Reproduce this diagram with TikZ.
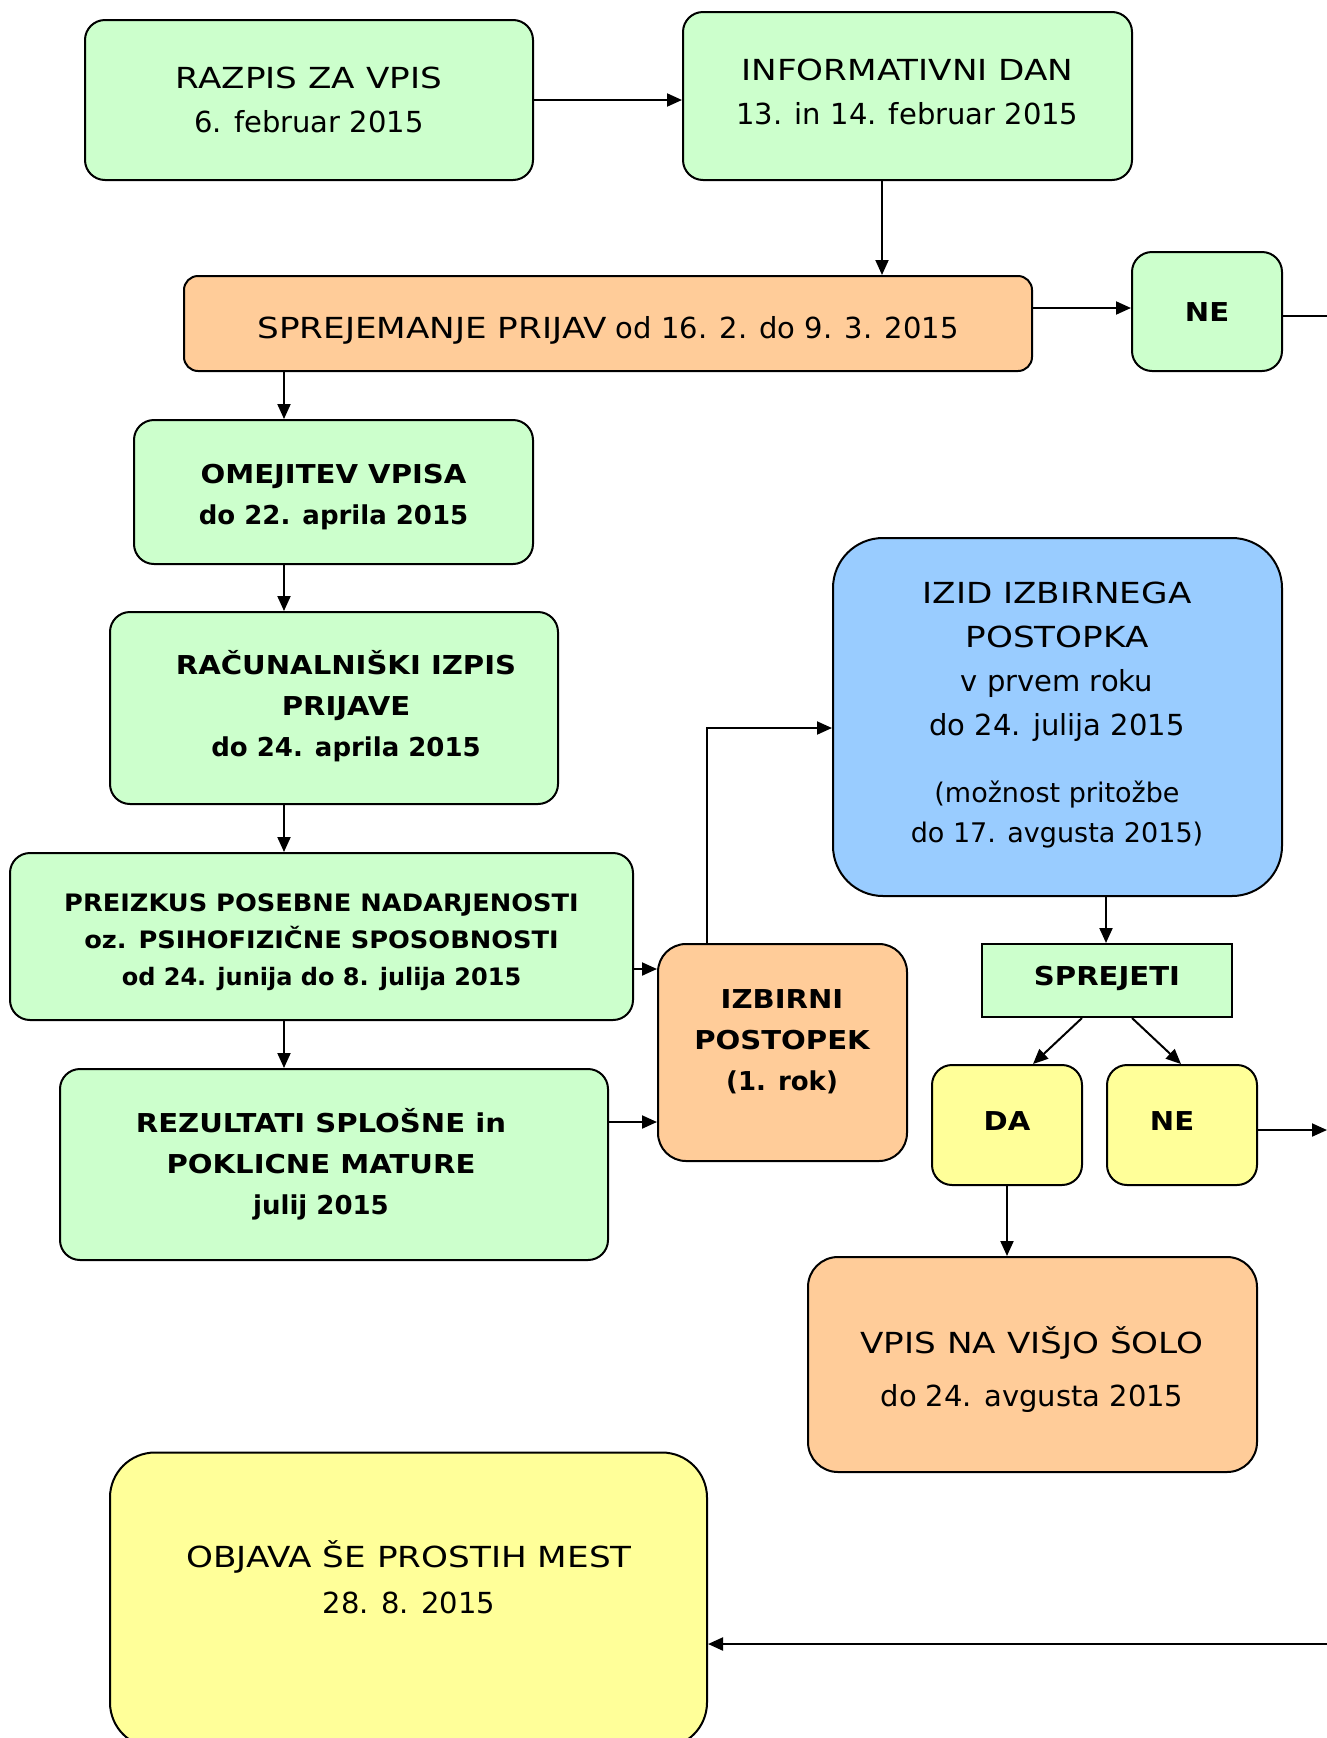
\documentclass[tikz,border=0pt]{standalone}
\usepackage{fontspec}
\setmainfont{DejaVu Sans}
\newfontfamily\wideA{DejaVu Sans}[FakeStretch=1.18]
\newfontfamily\wideB{DejaVu Sans}[FakeStretch=1.12]
\newfontfamily\wideC{DejaVu Sans}[FakeStretch=1.07]
\usetikzlibrary{arrows.meta}
\definecolor{cgreen}{HTML}{CCFFCC}
\definecolor{corange}{HTML}{FFCC99}
\definecolor{cblue}{HTML}{99CCFF}
\definecolor{cyellow}{HTML}{FFFF99}
\tikzset{
  box/.style={draw=black, line width=2pt, rounded corners=20pt, inner sep=0pt},
  txt/.style={align=center, inner sep=0pt},
  reg/.style={txt, font=\fontsize{29}{44}\selectfont},
  bld/.style={txt, font=\bfseries\fontsize{26}{41}\selectfont},
  arr/.style={line width=2pt, -{Triangle[length=15pt,width=13pt]}},
  ln/.style={line width=2pt},
}
\begin{document}
\begin{tikzpicture}[x=1pt,y=-1pt]
\useasboundingbox (0,0) rectangle (1327,1738);
\clip (0,0) rectangle (1327,1738);
% boxes
\node[box,fill=cgreen,minimum width=448pt,minimum height=160pt] (raz) at (309,100) {};
\node[box,fill=cgreen,minimum width=449pt,minimum height=168pt] (info) at (907.5,96) {};
\node[box,fill=corange,rounded corners=14pt,minimum width=848pt,minimum height=95pt] (sprej) at (608,323.5) {};
\node[box,fill=cgreen,minimum width=150pt,minimum height=119pt] (ne1) at (1207,311.5) {};
\node[box,fill=cgreen,minimum width=399pt,minimum height=144pt] (omej) at (333.5,492) {};
\node[box,fill=cgreen,minimum width=448pt,minimum height=192pt] (racun) at (334,708) {};
\node[box,fill=cgreen,minimum width=623pt,minimum height=167pt] (preiz) at (321.5,936.5) {};
\node[box,fill=cgreen,minimum width=548pt,minimum height=191pt] (rez) at (334,1164.5) {};
\node[box,fill=corange,rounded corners=28pt,minimum width=249pt,minimum height=217pt] (izb) at (782.5,1052.5) {};
\node[box,fill=cblue,rounded corners=50pt,minimum width=449pt,minimum height=358pt] (izid) at (1057.5,717) {};
\node[draw=black,line width=2pt,fill=cgreen,minimum width=250pt,minimum height=73pt,inner sep=0pt] (sprejeti) at (1107,980.5) {};
\node[box,fill=cyellow,minimum width=150pt,minimum height=120pt] (da) at (1007,1125) {};
\node[box,fill=cyellow,minimum width=150pt,minimum height=120pt] (ne2) at (1182,1125) {};
\node[box,fill=corange,rounded corners=30pt,minimum width=449pt,minimum height=215pt] (vpis) at (1032.5,1364.5) {};
\node[box,fill=cyellow,rounded corners=45pt,minimum width=597pt,minimum height=295pt] (objava) at (408.5,1600) {};
% texts
\node[reg] (razt) at (309,100) {{\wideA RAZPIS ZA VPIS}\\6. februar 2015};
\node[reg] (infot) at (907.5,92) {{\wideA INFORMATIVNI DAN}\\13. in 14. februar 2015};
\node[reg] (sprejt) at (608,330) {{\wideA SPREJEMANJE PRIJAV} od 16. 2. do 9. 3. 2015};
\node[bld] (ne1t) at (1207,312) {\wideB NE};
\node[bld] (omejt) at (333.5,497) {{\wideB OMEJITEV VPISA}\\do 22. aprila 2015};
\node[bld] (racunt) at (346,706) {{\wideB RAČUNALNIŠKI IZPIS}\\{\wideB PRIJAVE}\\do 24. aprila 2015};
\node[bld,font=\bfseries\fontsize{24}{37}\selectfont] (preizt) at (321.5,942) {{\wideC PREIZKUS POSEBNE NADARJENOSTI}\\{\wideC oz. PSIHOFIZIČNE SPOSOBNOSTI}\\od 24. junija do 8. julija 2015};
\node[bld] (rezt) at (321,1164) {{\wideB REZULTATI SPLOŠNE in}\\{\wideB POKLICNE MATURE}\\julij 2015};
\node[bld] (izbt) at (782,1042) {{\wideB IZBIRNI}\\{\wideB POSTOPEK}\\(1. rok)};
\node[reg] (izidt) at (1057,661.5) {{\wideA IZID IZBIRNEGA}\\{\wideA POSTOPKA}\\v prvem roku\\do 24. julija 2015};
\node[txt,font=\fontsize{27}{40}\selectfont] (izidt2) at (1057,814) {(možnost pritožbe\\do 17. avgusta 2015)};
\node[bld] (sprejetit) at (1107,978) {\wideB SPREJETI};
\node[bld] (dat) at (1007,1121) {\wideB DA};
\node[bld] (ne2t) at (1172,1121) {\wideB NE};
\node[reg,font=\fontsize{29}{53}\selectfont] (vpist) at (1032,1370) {{\wideA VPIS NA VIŠJO ŠOLO}\\do 24. avgusta 2015};
\node[reg,font=\fontsize{29}{46}\selectfont] (objt) at (409,1577) {{\wideA OBJAVA ŠE PROSTIH MEST}\\28. 8. 2015};
\coordinate (e1) at (1327,316);
\coordinate (e2) at (1327,1130);
\coordinate (e3) at (1327,1644);
% connectors
\draw[arr] (raz.east) -- (raz.east -| info.west);
\draw[arr] (info.south -| 882,0) -- (sprej.north -| 882,0);
\draw[arr] (sprej.east |- 0,308) -- (ne1.west |- 0,308);
\draw[ln] (ne1.east |- e1) -- (e1);
\draw[arr] (sprej.south -| 284,0) -- (omej.north -| 284,0);
\draw[arr] (omej.south -| 284,0) -- (racun.north -| 284,0);
\draw[arr] (racun.south -| 284,0) -- (preiz.north -| 284,0);
\draw[arr] (preiz.south -| 284,0) -- (rez.north -| 284,0);
\draw[arr] (preiz.east |- 0,969) -- (izb.west |- 0,969);
\draw[arr] (rez.east |- 0,1122) -- (izb.west |- 0,1122);
\draw[arr] (izb.north -| 707,0) |- (izid.west |- 0,728);
\draw[arr] (izid.south -| 1106,0) -- (sprejeti.north -| 1106,0);
\draw[arr] (sprejeti.south -| 1082,0) -- (da.north -| 1033,0);
\draw[arr] (sprejeti.south -| 1132,0) -- (ne2.north -| 1181,0);
\draw[arr] (ne2.east |- e2) -- (e2);
\draw[arr] (da.south -| 1007,0) -- (vpis.north -| 1007,0);
\draw[arr] (e3) -- (objava.east |- e3);
\end{tikzpicture}
\end{document}
